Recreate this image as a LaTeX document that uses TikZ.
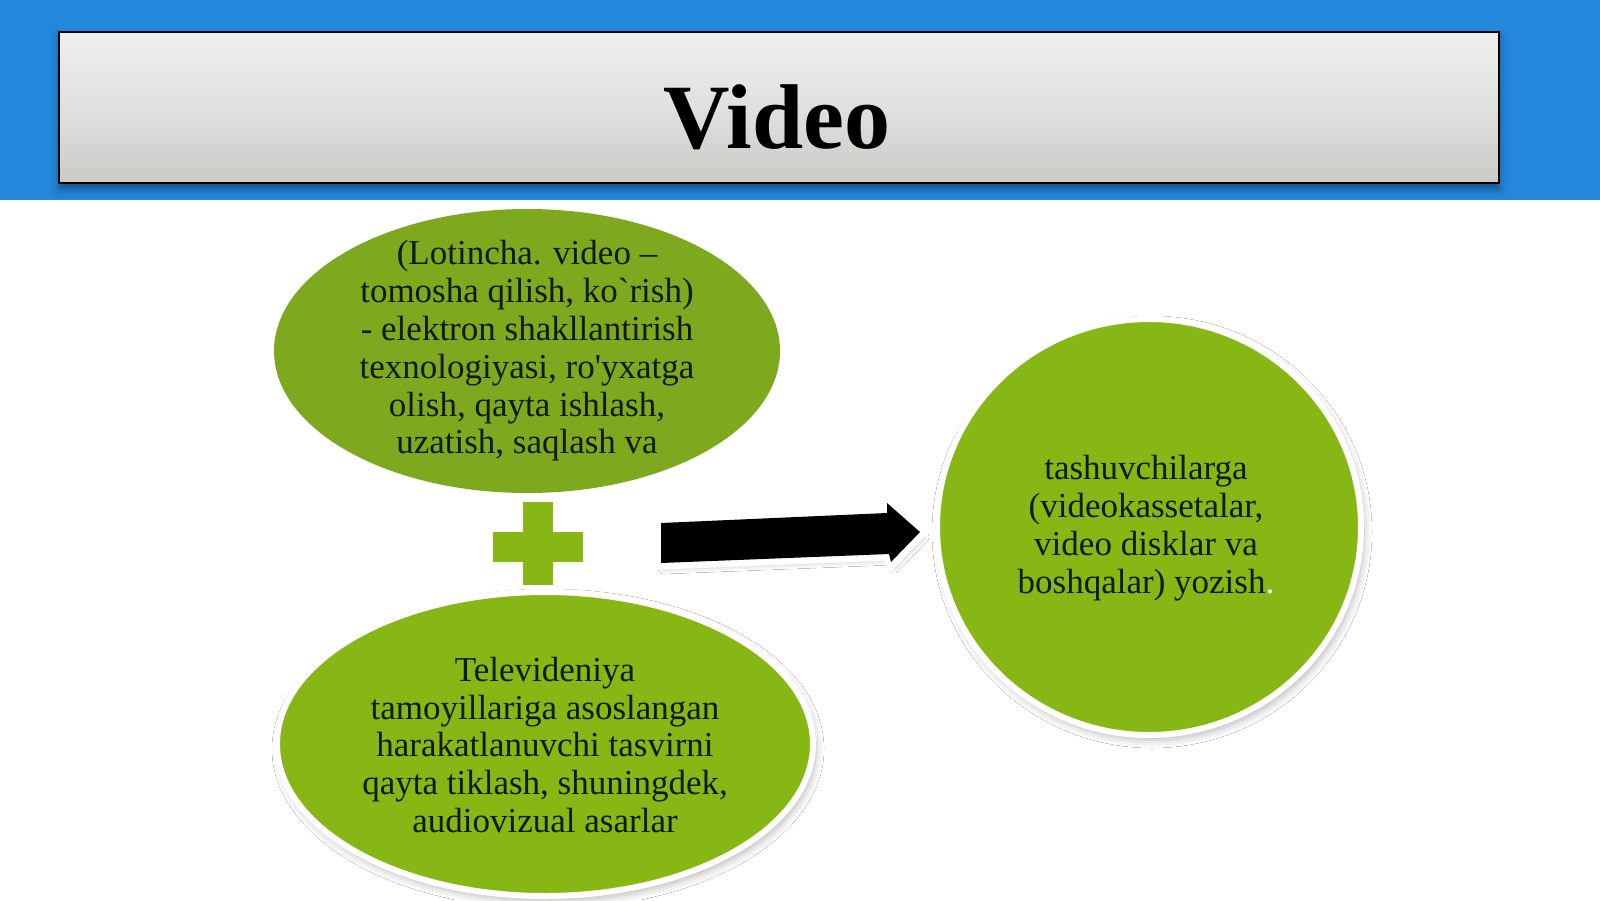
\documentclass[tikz,border=0pt]{standalone}
\usepackage{fontspec}
\setmainfont{Liberation Serif}
\usetikzlibrary{shapes.geometric,shadows.blur}
\definecolor{bandblue}{HTML}{2388DB}
\definecolor{boxtop}{HTML}{EFEFEE}
\definecolor{boxmid}{HTML}{E1E0E0}
\definecolor{boxbot}{HTML}{CBCAC6}
\definecolor{leafgreen}{HTML}{86B714}
\definecolor{leafdark}{HTML}{7EA81D}
\definecolor{inkdark}{HTML}{0F1A08}
\tikzset{
  titlebox/.style={draw=black, line width=1.2pt, top color=boxtop, bottom color=boxbot, middle color=boxmid,
    blur shadow={shadow xshift=0pt, shadow yshift=-3pt, shadow blur radius=4pt, shadow opacity=40}},
  titletxt/.style={font=\fontsize{46}{50}\selectfont\bfseries, text=black, inner sep=0},
  blob/.style={ellipse, inner sep=0, fill=leafgreen},
  rimmed/.style={draw=white, line width=3pt,
    blur shadow={shadow xshift=1.5pt, shadow yshift=-2.5pt, shadow blur radius=4pt, shadow opacity=28}},
  bodytxt/.style={font=\fontsize{17.5}{18.9}\selectfont, align=center, text=inkdark, inner sep=0},
  plusbar/.style={rectangle, fill=leafgreen, inner sep=0},
  arrowrim/.style={draw=white, fill=white, line width=6.5pt, line join=miter,
    blur shadow={shadow xshift=1.5pt, shadow yshift=-2.5pt, shadow blur radius=3pt, shadow opacity=30}},
  arrowbody/.style={fill=black}
}
\begin{document}
\begin{tikzpicture}[x=0.5pt,y=-0.5pt]
\useasboundingbox (0,0) rectangle (1600,900);
\fill[white] (0,0) rectangle (1600,900);
\fill[bandblue] (0,0) rectangle (1600,200);
% title
\node[titlebox, minimum width=720pt, minimum height=75.5pt, inner sep=0] (title) at (779,107.5) {};
\node[titletxt, anchor=base] (titletext) at (777,148) {Video};
% top ellipse
\node[blob, fill=leafdark, minimum width=253pt, minimum height=142pt] (e1) at (527,351) {};
\node[bodytxt] (t1) at (e1.center) {(Lotincha. video –\\tomosha qilish, ko\textasciigrave rish)\\- elektron shakllantirish\\texnologiyasi, ro\textquotesingle yxatga\\olish, qayta ishlash,\\uzatish, saqlash va};
% bottom ellipse
\node[blob, rimmed, minimum width=268pt, minimum height=152pt] (e2) at (545,744) {};
\node[bodytxt] (t2) at (545,745) {Televideniya\\tamoyillariga asoslangan\\harakatlanuvchi tasvirni\\qayta tiklash, shuningdek,\\audiovizual asarlar};
% right circle
\node[blob, rimmed, minimum width=212pt, minimum height=208pt] (e3) at (1149,527) {};
\node[bodytxt] (t3) at (1146,528) {tashuvchilarga\\(videokassetalar,\\video disklar va\\boshqalar) yozish\textcolor{white}{.}};
% plus sign
\node[plusbar, minimum width=45pt, minimum height=15pt] (plush) at (538,547) {};
\node[plusbar, minimum width=15pt, minimum height=41.5pt] (plusv) at (538,543.5) {};
% block arrow
\coordinate (a1) at (661,523);
\coordinate (a2) at (887,513);
\coordinate (a3) at (887,503);
\coordinate (a4) at (920,532);
\coordinate (a5) at (891,562);
\coordinate (a6) at (889,554);
\coordinate (a7) at (661,563);
\draw[arrowrim] (a1) -- (a2) -- (a3) -- (a4) -- (a5) -- (a6) -- (a7) -- cycle;
\fill[arrowbody] (a1) -- (a2) -- (a3) -- (a4) -- (a5) -- (a6) -- (a7) -- cycle;
\end{tikzpicture}
\end{document}
